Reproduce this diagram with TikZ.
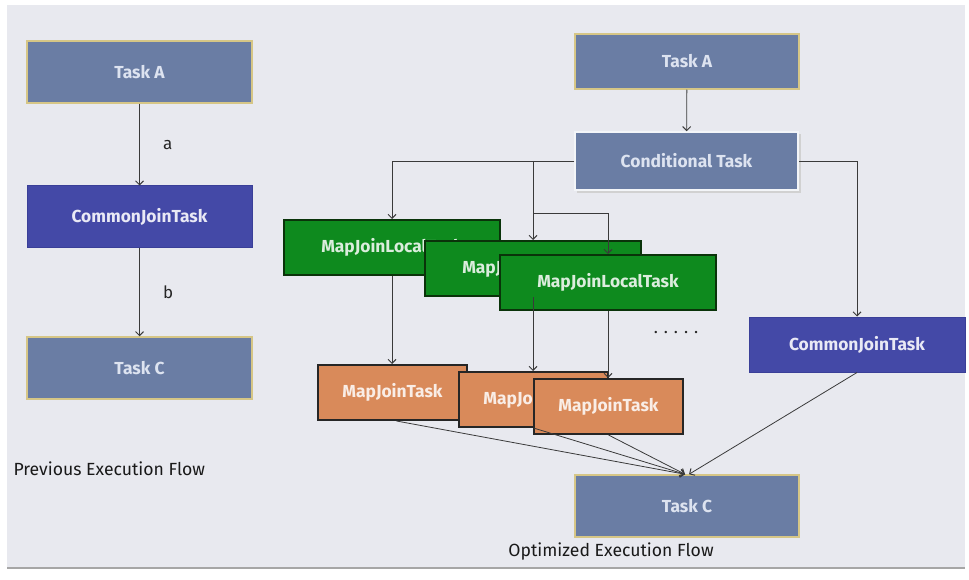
\documentclass[tikz,border=0pt]{standalone}
\usepackage{fontspec}
\setmainfont{Fira Sans}
\usetikzlibrary{arrows.meta}
\definecolor{bgc}{HTML}{E8E9EF}
\definecolor{slate}{HTML}{6A7DA4}
\definecolor{gold}{HTML}{D6C686}
\definecolor{indigo}{HTML}{4449A7}
\definecolor{indigoB}{HTML}{3A3F98}
\definecolor{grn}{HTML}{0E8A1E}
\definecolor{grnB}{HTML}{0A330A}
\definecolor{orng}{HTML}{D98A5A}
\definecolor{boxtxt}{HTML}{DDE3F0}
\definecolor{lnc}{HTML}{3A3A3A}
\tikzset{
  box/.style={rectangle, inner sep=0pt, font=\fontsize{17.4}{20}\selectfont\bfseries, text=boxtxt},
  slatebox/.style={box, fill=slate, draw=gold, line width=1.5pt},
  condbox/.style={box, fill=slate, draw=white!92!slate, line width=1.5pt},
  indbox/.style={box, fill=indigo, draw=indigoB, line width=1pt, text=white!88!indigo},
  grnbox/.style={box, fill=grn, draw=grnB, line width=2pt, text=white!85!grn, minimum width=216pt, minimum height=55pt},
  orbox/.style={box, fill=orng, draw=black!85, line width=2pt, text=white!85!orng, minimum width=149pt, minimum height=55pt},
  conn/.style={draw=lnc, line width=0.8pt, -{Straight Barb[length=4pt,width=8pt,line width=1pt]}},
  lbl/.style={font=\fontsize{17}{20}\selectfont, text=black!85},
  ttl/.style={font=\fontsize{17.6}{21}\selectfont, text=black!90}
}
\begin{document}
\begin{tikzpicture}[x=1pt,y=-1pt]
\useasboundingbox (0,0) rectangle (969,580);
\fill[white] (0,0) rectangle (969,580);
\fill[bgc] (7,5) rectangle (965,567);
\fill[black!35] (7,567) rectangle (965,569);

% left flow
\node[slatebox, minimum width=225pt, minimum height=62pt] (la) at (139.5,72) {Task A};
\node[indbox, minimum width=225pt, minimum height=61pt] (lcj) at (139.5,216.5) {CommonJoinTask};
\node[slatebox, minimum width=225pt, minimum height=62pt] (ltc) at (139.5,368) {Task C};
\node[ttl, anchor=west] (lt) at (10,469) {Previous Execution Flow};

% right flow
\node[slatebox, minimum width=224pt, minimum height=55pt] (ra) at (687,61.5) {Task A};
\fill[black!18] (577,134) rectangle (801,193);
\node[condbox, minimum width=223pt, minimum height=58pt] (cond) at (686.5,161) {Conditional Task};

\node[grnbox] (m1) at (392,247.5) {MapJoinLocalTask};
\node[grnbox] (m2) at (533,268.5) {MapJoinLocalTask};
\node[grnbox] (m3) at (608,282.5) {MapJoinLocalTask};

\node[orbox] (j1) at (392.5,392.5) {MapJoinTask};
\node[orbox] (j2) at (533.5,399.5) {MapJoinTask};
\node[orbox] (j3) at (608.5,406.5) {MapJoinTask};

\node[lbl] (dots) at (676,333) {. . . . .};

\node[indbox, minimum width=216pt, minimum height=55pt] (rcj) at (857,344.5) {CommonJoinTask};
\node[slatebox, minimum width=224pt, minimum height=62pt] (rtc) at (687,506) {Task C};
\node[ttl] (rt) at (611,552) {Optimized Execution Flow};

% connectors left
\draw[conn] (la) -- node[lbl, right=20pt] {a} (lcj);
\draw[conn] (lcj) -- node[lbl, right=20pt] {b} (ltc);

% connectors right
\draw[conn] (ra) -- (cond);
\draw[conn] (cond.west) -| (m1.north);
\coordinate (b1) at (m2.north |- cond.west);
\coordinate (b2) at (533,213);
\draw[conn] (b1) -- (m2.north);
\draw[conn] (b2) -| (m3.north);
\draw[conn] (cond.east) -| (rcj.north);

\draw[conn] (m1.south) -- (m1.south |- j1.north);
\draw[conn] (m2.south) -- (m2.south |- j2.north);
\draw[conn] (m3.south) -- (m3.south |- j3.north);

\coordinate (tin) at ([xshift=-2pt]rtc.north);
\draw[conn] ([xshift=4pt]j1.south) -- (tin);
\draw[conn] (j2.south) -- (tin);
\draw[conn] (j3.south) -- (tin);
\draw[conn] (rcj.south) -- ([xshift=2pt]rtc.north);
\end{tikzpicture}
\end{document}
